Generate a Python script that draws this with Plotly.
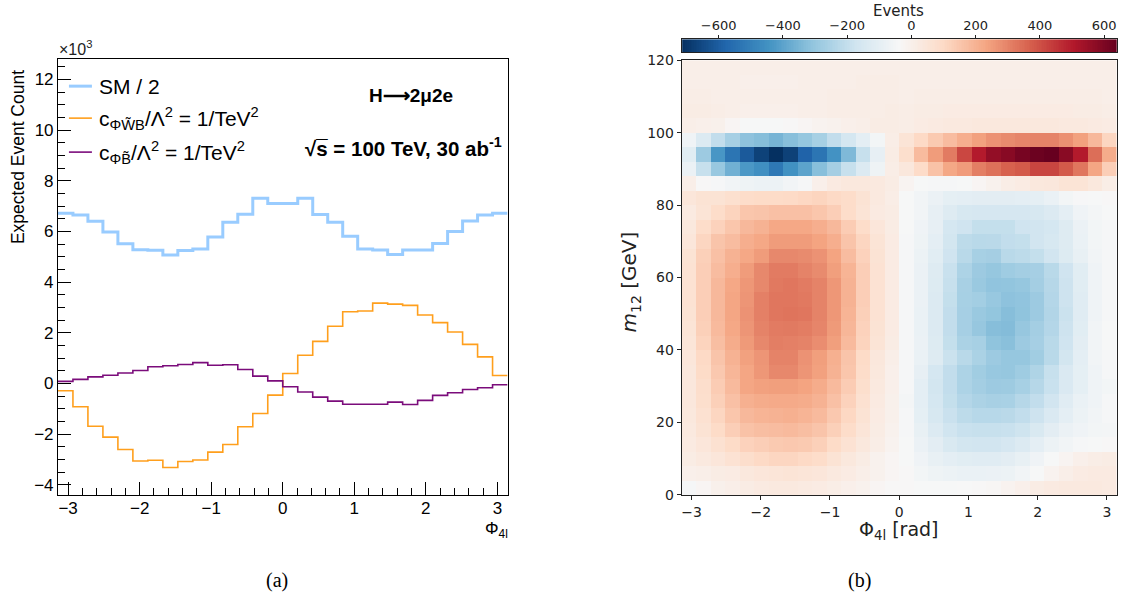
import numpy as np
import plotly.graph_objects as go

W, H = 1122, 601

# Φ4l binning shared by both panels, m12 binning of panel (b)
phi_edges = np.linspace(-np.pi, np.pi, 31)
m12_edges = np.linspace(0, 120, 31)

# ---------------- (a) expected event counts per Φ4l bin, in units of 10^3
sm_half = [6.72, 6.65, 6.40, 5.98, 5.51, 5.28, 5.26, 5.07, 5.25, 5.31,
           5.78, 6.36, 6.68, 7.31, 7.10, 7.10, 7.31, 6.67, 6.36, 5.81,
           5.31, 5.27, 5.09, 5.27, 5.27, 5.52, 6.00, 6.41, 6.65, 6.72]
c_phi_wtb = [-0.29, -0.92, -1.69, -2.12, -2.61, -3.06, -3.03, -3.32, -3.08, -3.02,
             -2.71, -2.41, -1.71, -1.19, -0.46, 0.39, 1.11, 1.66, 2.26, 2.83,
             2.86, 3.17, 3.13, 3.08, 2.70, 2.40, 2.03, 1.54, 1.05, 0.31]
c_phi_bt = [0.08, 0.16, 0.26, 0.32, 0.41, 0.51, 0.66, 0.70, 0.75, 0.82,
            0.72, 0.74, 0.55, 0.29, 0.10, -0.13, -0.34, -0.54, -0.70, -0.82,
            -0.82, -0.82, -0.74, -0.83, -0.67, -0.47, -0.37, -0.24, -0.17, -0.05]

x_ticks_a = [-3, -2, -1, 0, 1, 2, 3]
y_ticks_a = [-4, -2, 0, 2, 4, 6, 8, 10, 12]

# ---------------- (b) events per (Φ4l, m12) bin; one row per 4 GeV, from m12 = 0 upward
events_map = [
    [-45, -25, -5, 5, 15, 25, 30, 30, 25, 20, 10, 0, -10, -25, -35,
     -35, -40, -40, -40, -38, -35, -30, -15, 0, 15, 25, 30, 30, 30, 25],          # 0-4
    [0, 5, 15, 20, 35, 45, 50, 55, 50, 45, 30, 20, 5, -10, -25,
     -35, -55, -70, -78, -85, -85, -82, -75, -60, -40, -15, 5, 20, 25, 25],       # 4-8
    [15, 30, 45, 65, 85, 100, 110, 110, 100, 90, 60, 35, 15, -10, -25,
     -40, -65, -90, -105, -115, -118, -118, -110, -90, -65, -40, -20, 0, 10, 15],  # 8-12
    [25, 45, 70, 95, 120, 130, 140, 145, 140, 125, 95, 65, 35, 10, -15,
     -40, -80, -110, -145, -165, -170, -170, -155, -135, -105, -75, -60, -45, -40, -35],  # 12-16
    [30, 60, 95, 130, 160, 170, 175, 180, 170, 155, 125, 90, 50, 15, -10,
     -45, -90, -135, -172, -190, -195, -195, -190, -178, -145, -110, -80, -65, -55, -50],  # 16-20
    [35, 70, 110, 150, 185, 195, 200, 205, 195, 180, 145, 105, 60, 20, -5,
     -45, -100, -150, -188, -215, -228, -228, -222, -205, -180, -140, -105, -75, -60, -45],  # 20-24
    [40, 80, 125, 165, 205, 215, 220, 220, 215, 200, 165, 120, 70, 25, -5,
     -50, -105, -160, -200, -235, -252, -260, -258, -230, -205, -170, -120, -85, -65, -45],  # 24-28
    [40, 85, 135, 180, 230, 240, 245, 245, 235, 215, 180, 135, 80, 30, 0,
     -45, -105, -165, -205, -250, -270, -285, -282, -262, -230, -190, -140, -100, -65, -55],  # 28-32
    [40, 95, 145, 190, 230, 260, 290, 290, 265, 240, 200, 150, 90, 35, 0,
     -45, -95, -160, -205, -250, -275, -295, -300, -280, -245, -195, -140, -100, -65, -45],  # 32-36
    [45, 100, 155, 200, 240, 265, 300, 300, 270, 245, 205, 155, 95, 40, 5,
     -45, -85, -125, -185, -225, -255, -285, -300, -300, -275, -225, -165, -105, -60, -45],  # 36-40
    [50, 115, 170, 215, 255, 290, 310, 305, 300, 280, 245, 180, 115, 55, 15,
     -45, -80, -130, -200, -255, -262, -312, -322, -285, -265, -225, -175, -110, -60, -40],  # 40-44
    [55, 125, 180, 225, 265, 300, 315, 318, 312, 295, 255, 190, 120, 60, 20,
     -45, -85, -135, -205, -265, -298, -327, -332, -298, -270, -235, -180, -115, -60, -40],  # 44-48
    [60, 130, 185, 230, 270, 305, 325, 330, 325, 300, 260, 195, 125, 65, 20,
     -45, -85, -135, -205, -265, -290, -305, -327, -312, -285, -240, -185, -120, -65, -45],  # 48-52
    [65, 130, 185, 230, 265, 305, 325, 325, 320, 300, 260, 200, 130, 65, 20,
     -45, -80, -135, -200, -262, -272, -295, -315, -310, -285, -235, -180, -120, -65, -45],  # 52-56
    [65, 130, 185, 225, 260, 290, 320, 325, 315, 300, 260, 200, 130, 65, 20,
     -45, -80, -130, -195, -260, -290, -310, -308, -300, -270, -230, -180, -115, -65, -45],  # 56-60
    [65, 130, 175, 210, 250, 290, 315, 315, 300, 285, 245, 195, 130, 65, 20,
     -45, -80, -125, -190, -250, -285, -300, -280, -270, -265, -225, -175, -115, -65, -45],  # 60-64
    [60, 125, 165, 200, 225, 250, 290, 290, 285, 270, 235, 175, 120, 60, 20,
     -45, -75, -115, -175, -225, -262, -268, -225, -215, -200, -170, -130, -90, -60, -45],  # 64-68
    [45, 110, 155, 175, 210, 225, 250, 250, 250, 235, 210, 155, 110, 55, 20,
     -45, -70, -105, -165, -215, -225, -222, -205, -200, -170, -150, -125, -85, -55, -45],  # 68-72
    [35, 90, 120, 150, 185, 200, 225, 225, 225, 210, 185, 135, 90, 45, 15,
     -40, -65, -95, -160, -175, -200, -200, -200, -175, -170, -160, -125, -80, -55, -45],  # 72-76
    [25, 55, 90, 115, 150, 155, 165, 165, 165, 150, 130, 90, 55, 25, 15,
     -40, -60, -95, -125, -150, -155, -155, -155, -155, -150, -135, -105, -65, -50, -40],  # 76-80
    [45, 60, 60, 75, 90, 95, 95, 98, 105, 113, 100, 90, 60, 30, 10,
     -40, -60, -80, -100, -105, -110, -110, -110, -105, -100, -85, -55, -42, -40, -35],  # 80-84
    [5, -35, -45, -60, -70, -75, -75, -60, -45, 0, 25, 35, 35, 30, 15,
     -20, -40, -45, -45, -40, -25, -10, 10, 20, 35, 40, 55, 55, 35, 10],          # 84-88
    [-80, -195, -295, -365, -430, -455, -525, -450, -400, -325, -268, -195, -133, -69, 10,
     40, 93, 160, 226, 252, 310, 335, 366, 380, 420, 420, 380, 325, 230, 130],    # 88-92
    [-115, -285, -435, -535, -610, -670, -714, -672, -585, -535, -445, -340, -195, -95, 15,
     80, 178, 251, 315, 415, 500, 560, 580, 610, 630, 639, 578, 500, 340, 215],   # 92-96
    [-65, -135, -205, -265, -315, -328, -355, -325, -300, -262, -205, -160, -105, -55, 10,
     55, 100, 140, 175, 210, 240, 270, 285, 295, 300, 300, 275, 240, 185, 110],   # 96-100
    [5, 0, -5, -25, -40, -40, -40, -35, -25, -15, -10, 0, 5, 15, 15,
     10, 20, 25, 30, 30, 35, 35, 35, 35, 35, 35, 30, 30, 25, 20],                 # 100-104
    [15, 15, 10, 5, 0, 0, 0, 0, 5, 5, 10, 10, 10, 10, 15,
     10, 15, 15, 20, 20, 20, 20, 20, 20, 20, 20, 20, 15, 15, 10],                 # 104-108
    [10, 10, 5, 5, 5, 5, 5, 5, 5, 5, 10, 10, 10, 10, 10,
     5, 10, 10, 10, 10, 10, 10, 10, 10, 10, 10, 10, 10, 10, 5],                   # 108-112
    [5, 5, 5, 5, 0, 0, 0, 0, 5, 5, 5, 5, 10, 10, 10,
     5, 5, 5, 5, 5, 5, 5, 5, 5, 5, 5, 5, 5, 5, 5],                                # 112-116
    [5, 5, 5, 5, 5, 5, 5, 5, 5, 5, 5, 5, 5, 5, 5,
     5, 5, 5, 5, 5, 5, 5, 5, 5, 5, 5, 5, 5, 5, 5],                                # 116-120
]

x_ticks_b = [-3, -2, -1, 0, 1, 2, 3]
y_ticks_b = [0, 20, 40, 60, 80, 100, 120]
cbar_ticks = [-600, -400, -200, 0, 200, 400, 600]

# matplotlib RdBu_r nodes
rdbu_r = ["#053061", "#2166ac", "#4393c3", "#92c5de", "#d1e5f0", "#f7f7f7",
          "#fddbc7", "#f4a582", "#d6604d", "#b2182b", "#67001f"]
colorscale = [[i / (len(rdbu_r) - 1), c] for i, c in enumerate(rdbu_r)]

SM_COLOR = "#99ccff"
WTB_COLOR = "#ff9f1c"
BT_COLOR = "#7b0c7b"

ROOT_FONT = "Liberation Sans, Arial, sans-serif"
MPL_FONT = "DejaVu Sans, sans-serif"
SERIF = "Liberation Serif, DejaVu Serif, serif"

# page layout helpers: positions below are given in page pixels
Y_OFF, Y_SCALE = 7.8, 0.974


def fx(px):
    return px / W


def fy(py):
    return 1 - ((py - Y_OFF) / Y_SCALE) / H


fig = go.Figure()


def step_trace(values, color, width):
    return go.Scatter(x=phi_edges, y=list(values) + [values[-1]], mode="lines",
                      line=dict(color=color, width=width, shape="hv"),
                      xaxis="x", yaxis="y", hoverinfo="skip", showlegend=False)


fig.add_trace(step_trace(sm_half, SM_COLOR, 3))
fig.add_trace(step_trace(c_phi_wtb, WTB_COLOR, 1.6))
fig.add_trace(step_trace(c_phi_bt, BT_COLOR, 1.6))

zmin = float(np.min(events_map))
zmax = float(np.max(events_map))

fig.add_trace(go.Heatmap(x=phi_edges, y=m12_edges, z=events_map,
                         colorscale=colorscale, zmin=zmin, zmax=zmax,
                         showscale=False, xaxis="x2", yaxis="y2", hoverinfo="skip"))

# colour bar drawn as its own strip with the scale on top
cb_edges = np.linspace(zmin, zmax, 257)
cb_vals = 0.5 * (cb_edges[:-1] + cb_edges[1:])
fig.add_trace(go.Heatmap(x=cb_edges, y=[0, 1], z=[cb_vals],
                         colorscale=colorscale, zmin=zmin, zmax=zmax,
                         showscale=False, xaxis="x3", yaxis="y3", hoverinfo="skip"))

root_axis = dict(showline=True, linecolor="black", linewidth=1, mirror=True,
                 showgrid=False, zeroline=False, ticks="inside", ticklen=13,
                 tickwidth=1, tickcolor="black",
                 tickfont=dict(family=ROOT_FONT, size=17, color="black"))
mpl_axis = dict(showline=True, linecolor="#222222", linewidth=1, mirror=True,
                showgrid=False, zeroline=False, ticks="outside", ticklen=4,
                tickwidth=1, tickcolor="#222222",
                tickfont=dict(family=MPL_FONT, size=14, color="#222222"))

fig.update_layout(
    width=W, height=H, margin=dict(l=0, r=0, t=0, b=0),
    paper_bgcolor="white", plot_bgcolor="white", showlegend=False,
    xaxis=dict(root_axis, domain=[fx(57), fx(507)], anchor="y",
               range=[-np.pi, np.pi], tickmode="array", tickvals=x_ticks_a,
               ticklabelstandoff=-2,
               minor=dict(ticks="inside", ticklen=7, dtick=0.2, tick0=0,
                          tickcolor="black", showgrid=False)),
    yaxis=dict(root_axis, domain=[fy(495), fy(59)], anchor="x",
               range=[-4.4, 12.8], tickmode="array", tickvals=y_ticks_a,
               minor=dict(ticks="inside", ticklen=7, dtick=0.5, tick0=0,
                          tickcolor="black", showgrid=False)),
    xaxis2=dict(mpl_axis, domain=[fx(681.3), fx(1116.7)], anchor="y2",
                range=[-np.pi, np.pi], tickmode="array", tickvals=x_ticks_b),
    yaxis2=dict(mpl_axis, domain=[fy(495), fy(60)], anchor="x2",
                range=[0, 120], tickmode="array", tickvals=y_ticks_b),
    xaxis3=dict(mpl_axis, domain=[fx(681.7), fx(1116.7)], anchor="y3",
                range=[zmin, zmax], side="top", ticklen=3,
                tickfont=dict(family=MPL_FONT, size=13, color="#222222"),
                tickmode="array", tickvals=cbar_ticks),
    yaxis3=dict(domain=[fy(52), fy(39)], anchor="x3", range=[0, 1],
                showticklabels=False, ticks="", showgrid=False, zeroline=False,
                showline=True, linecolor="#222222", mirror=True),
)

ann = []


def text(x, y, s, size, family, xanchor="center", yanchor="middle", angle=0, color="black"):
    ann.append(dict(x=fx(x), y=fy(y), xref="paper", yref="paper", text=s,
                    showarrow=False, xanchor=xanchor, yanchor=yanchor,
                    textangle=angle, font=dict(family=family, size=size, color=color)))


# panel (a) labels
text(56, 48, "×10<sup>3</sup>", 16, ROOT_FONT, xanchor="left", color="#222222")
text(17, 157, "Expected Event Count", 17.5, ROOT_FONT, angle=-90)
text(509, 530, "Φ<sub>4l</sub>", 17, ROOT_FONT, xanchor="right")
text(410, 95, "<b>H\u27f62μ2e</b>", 19, ROOT_FONT)
text(503, 147, "<b>√s\u0305 = 100 TeV, 30 ab<sup>-1</sup></b>", 20.5, ROOT_FONT, xanchor="right")

legend_rows = [
    (86, SM_COLOR, 3, "SM / 2"),
    (118, WTB_COLOR, 1.6, "c<sub>ΦW\u0303B</sub>/Λ<sup>2</sup> = 1/TeV<sup>2</sup>"),
    (152, BT_COLOR, 1.6, "c<sub>ΦB\u0303</sub>/Λ<sup>2</sup> = 1/TeV<sup>2</sup>"),
]
shapes = []
for ly, col, lw, label in legend_rows:
    shapes.append(dict(type="line", xref="paper", yref="paper",
                       x0=fx(68), x1=fx(91), y0=fy(ly), y1=fy(ly),
                       line=dict(color=col, width=lw)))
    text(96, ly, label, 21, ROOT_FONT, xanchor="left")

# panel (b) labels
text(630, 282, "<i>m</i><sub>12</sub> [GeV]", 20, MPL_FONT, angle=-90, color="#222222")
text(899, 531, "Φ<sub>4l</sub> [rad]", 19, MPL_FONT, color="#222222")
text(898, 11, "Events", 15, MPL_FONT, color="#222222")

# captions
text(276, 581, "(a)", 20, SERIF)
text(859, 581, "(b)", 20, SERIF)

fig.update_layout(annotations=ann, shapes=shapes)
fig.write_html("out.html")
